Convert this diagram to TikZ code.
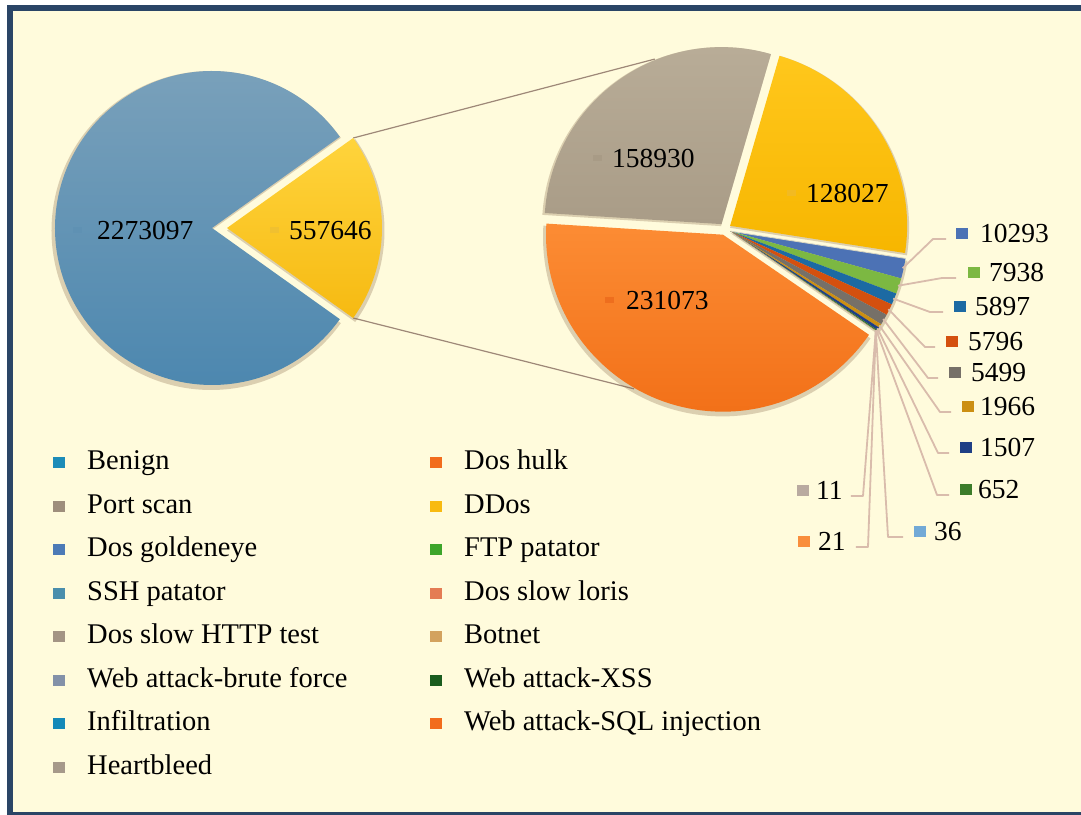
\documentclass[tikz,border=0pt]{standalone}
\usepackage{fontspec}
\setmainfont{Liberation Serif}
\usetikzlibrary{calc}
\definecolor{cream}{HTML}{FFFBDC}
\definecolor{frameblue}{HTML}{2A4566}
\definecolor{shadowc}{HTML}{8A6A4C}
\definecolor{zoomc}{HTML}{9E8878}
\definecolor{leadc}{HTML}{D9BCAC}
% pie colours
\definecolor{bluetop}{HTML}{7CA2BB}
\definecolor{bluebot}{HTML}{4C87AF}
\definecolor{yeltop}{HTML}{FFD43C}
\definecolor{yelbot}{HTML}{F6BA12}
\definecolor{graytop}{HTML}{B9AD98}
\definecolor{graybot}{HTML}{A99C87}
\definecolor{ddtop}{HTML}{FFC71C}
\definecolor{ddbot}{HTML}{F7B600}
\definecolor{hulktop}{HTML}{FC8C34}
\definecolor{hulkbot}{HTML}{F27018}
\definecolor{cgolden}{HTML}{4C72B5}
\definecolor{cftp}{HTML}{7CB842}
\definecolor{cssh}{HTML}{1C6AA3}
\definecolor{cloris}{HTML}{D4500F}
\definecolor{chttp}{HTML}{767068}
\definecolor{cbotnet}{HTML}{CC8F12}
\definecolor{cbrute}{HTML}{1F3F85}
\definecolor{cxss}{HTML}{3C7C2A}
\definecolor{cinfil}{HTML}{72A9D6}
\definecolor{csql}{HTML}{F98E3C}
\definecolor{cheart}{HTML}{B9AAA0}
% legend colours
\definecolor{lbenign}{HTML}{1C8CB8}
\definecolor{lport}{HTML}{9E8E7C}
\definecolor{lgolden}{HTML}{4C7AB6}
\definecolor{lssh}{HTML}{4A8EAC}
\definecolor{lhttp}{HTML}{A39484}
\definecolor{lbrute}{HTML}{8391A8}
\definecolor{linfil}{HTML}{1489B8}
\definecolor{lheart}{HTML}{A6998A}
\definecolor{lhulk}{HTML}{F26C1C}
\definecolor{lddos}{HTML}{F8BA10}
\definecolor{lftp}{HTML}{3DA52A}
\definecolor{lloris}{HTML}{E47C54}
\definecolor{lbotnet}{HTML}{D3A25E}
\definecolor{lxss}{HTML}{1A5C1E}
\definecolor{lsql}{HTML}{F26C1C}
% faint markers inside pies
\definecolor{fblue}{HTML}{5F91B3}
\definecolor{fyel}{HTML}{F0C030}
\definecolor{fgray}{HTML}{A89B86}
\definecolor{fdd}{HTML}{F2BA22}
\definecolor{fhulk}{HTML}{EE6E1E}

\newcommand{\pwedge}[5]{(#1,#2) -- ++(#3:#5) arc[start angle=#3, end angle=#4, radius=#5] -- cycle}
\newcommand{\mk}[2][1.5pt]{\textcolor{#2}{\rule[#1]{12pt}{11pt}}}
\newcommand{\fmk}[1]{\textcolor{#1}{\rule[6pt]{9pt}{6pt}}}

\begin{document}
\begin{tikzpicture}[x=1pt,y=1pt,
  leg/.style={anchor=base west,inner sep=0pt,font=\fontsize{28.5}{34}\selectfont,text=black},
  num/.style={anchor=base west,inner sep=0pt,font=\fontsize{27.5}{32}\selectfont,text=black},
  leader/.style={draw=leadc,line width=1.8pt,line join=round},
  zoomline/.style={draw=zoomc,line width=1.2pt},
  shadowfill/.style={fill=shadowc,opacity=0.3}]

\useasboundingbox (0,0) rectangle (1081,-814);
\clip (0,0) rectangle (1081,-814);
\fill[white] (0,0) rectangle (1081,-814);
\fill[frameblue] (7,-5) rectangle (1100,-830);
\fill[cream] (13,-11) rectangle (1100,-811.5);

% ---------- named centres ----------
\coordinate (LB) at (212,-228);     % left pie, benign
\coordinate (LA) at (227,-228);     % left pie, attacks (exploded)
\coordinate (PS) at (721.5,-224.1); % port scan apex
\coordinate (DD) at (730.1,-225.8); % ddos apex
\coordinate (HK) at (723.0,-234.7); % dos hulk apex
\coordinate (SA) at (730.6,-231.2); % small slices apex

% ---------- zoom lines ----------
\path (LA) ++(35.5:155) coordinate (yt);
\path (LA) ++(-35.5:155) coordinate (yb);
\path (PS) ++(112:178) coordinate (rt);
\path (HK) ++(-120:178) coordinate (rb);
\draw[zoomline] (yt) -- (rt);
\draw[zoomline] (yb) -- (rb);

% ---------- left pie ----------
\fill[shadowfill] \pwedge{211}{-230.5}{35.5}{324.5}{159.5};
\fill[shadowfill] \pwedge{227}{-230.5}{-35.5}{35.5}{157.5};
\shade[top color=bluetop,bottom color=bluebot] \pwedge{212}{-228}{35.5}{324.5}{157};
\shade[top color=yeltop,bottom color=yelbot] \pwedge{227}{-228}{-35.5}{35.5}{155};

% ---------- right pie ----------
\fill[shadowfill] \pwedge{721.0}{-226.1}{73.8}{176.4}{179};
\fill[shadowfill] \pwedge{730.1}{-227.8}{-8.85}{73.8}{179};
\fill[shadowfill] \pwedge{722.5}{-236.9}{176.4}{325.57}{179.5};
\fill[shadowfill] \pwedge{730.6}{-233.2}{-34.43}{-8.85}{179};
\shade[top color=graytop,bottom color=graybot] \pwedge{721.5}{-224.1}{73.8}{176.4}{177};
\shade[top color=ddtop,bottom color=ddbot] \pwedge{730.1}{-225.8}{-8.85}{73.8}{177};
\shade[top color=hulktop,bottom color=hulkbot] \pwedge{723.0}{-234.7}{176.4}{325.57}{177};
\fill[cgolden] \pwedge{730.6}{-231.2}{-15.495}{-8.85}{177};
\fill[cftp]    \pwedge{730.6}{-231.2}{-20.62}{-15.495}{177};
\fill[cssh]    \pwedge{730.6}{-231.2}{-24.427}{-20.62}{177};
\fill[cloris]  \pwedge{730.6}{-231.2}{-28.169}{-24.427}{177};
\fill[chttp]   \pwedge{730.6}{-231.2}{-31.719}{-28.169}{177};
\fill[cbotnet] \pwedge{730.6}{-231.2}{-32.988}{-31.719}{177};
\fill[cbrute]  \pwedge{730.6}{-231.2}{-33.961}{-32.988}{177};
\fill[cxss]    \pwedge{730.6}{-231.2}{-34.382}{-33.961}{177};
\fill[cinfil]  \pwedge{730.6}{-231.2}{-34.405}{-34.382}{177};
\fill[csql]    \pwedge{730.6}{-231.2}{-34.419}{-34.405}{177};
\fill[cheart]  \pwedge{730.6}{-231.2}{-34.43}{-34.419}{177};
\draw[cream!70!gray,line width=0.8pt] (SA) -- ++(-8.85:177);

% ---------- pie value labels ----------
\node[num] (p1) at (73,-239) {\fmk{fblue}\hspace{15pt}2273097};
\node[num] (p2) at (270,-239) {\fmk{fyel}\hspace{10pt}557646};
\node[num] (p3) at (593,-167) {\fmk{fgray}\hspace{10pt}158930};
\node[num] (p4) at (787,-202) {\fmk{fdd}\hspace{10pt}128027};
\node[num] (p5) at (605,-309) {\fmk{fhulk}\hspace{12pt}231073};

% ---------- leader start points ----------
\path (SA) ++(-12.17:176) coordinate (s1);
\path (SA) ++(-18.06:176) coordinate (s2);
\path (SA) ++(-22.52:176) coordinate (s3);
\path (SA) ++(-26.30:176) coordinate (s4);
\path (SA) ++(-29.94:176) coordinate (s5);
\path (SA) ++(-32.35:176) coordinate (s6);
\path (SA) ++(-33.47:176) coordinate (s7);
\path (SA) ++(-34.17:176) coordinate (s8);
\path (SA) ++(-34.39:176) coordinate (s9);
\path (SA) ++(-34.41:176) coordinate (s10);
\path (SA) ++(-34.42:176) coordinate (s11);

% ---------- outside value labels ----------
\node[num] (n1) at (956,-242) {\mk[3.5pt]{cgolden}\hspace{12pt}10293};
\node[num] (n2) at (968,-281) {\mk[3.5pt]{cftp}\hspace{9pt}7938};
\node[num] (n3) at (954,-315) {\mk[3.5pt]{cssh}\hspace{9pt}5897};
\node[num] (n4) at (946,-350) {\mk[3.5pt]{cloris}\hspace{10pt}5796};
\node[num] (n5) at (949,-381) {\mk[3.5pt]{chttp}\hspace{10pt}5499};
\node[num] (n6) at (962,-415) {\mk[3.5pt]{cbotnet}\hspace{6pt}1966};
\node[num] (n7) at (960,-456) {\mk[3.5pt]{cbrute}\hspace{8pt}1507};
\node[num] (n8) at (960,-498) {\mk[3.5pt]{cxss}\hspace{6pt}652};
\node[num] (n9) at (914,-540) {\mk[3.5pt]{cinfil}\hspace{8pt}36};
\node[num] (n10) at (797,-499) {\mk[3.5pt]{cheart}\hspace{7pt}11};
\node[num] (n11) at (798,-550) {\mk[3.5pt]{csql}\hspace{8pt}21};

\draw[leader] (s1) -- (933,-239) -- ([shift={(-10,3)}]n1.base west);
\draw[leader] (s2) -- (942,-278) -- ([shift={(-12,3)}]n2.base west);
\draw[leader] (s3) -- (930,-312) -- ([shift={(-11,3)}]n3.base west);
\draw[leader] (s4) -- (925,-347) -- ([shift={(-11,3)}]n4.base west);
\draw[leader] (s5) -- (928,-378) -- ([shift={(-11,3)}]n5.base west);
\draw[leader] (s6) -- (940,-412) -- ([shift={(-11,3)}]n6.base west);
\draw[leader] (s7) -- (938,-453) -- ([shift={(-11,3)}]n7.base west);
\draw[leader] (s8) -- (937,-495) -- ([shift={(-11,3)}]n8.base west);
\draw[leader] (s9) -- (888,-537) -- ([shift={(-11,3)}]n9.base west);
\draw[leader] (s11) -- (863,-496) -- ([shift={(8,3)}]n10.base east);
\draw[leader] (s10) -- (868,-547) -- ([shift={(10,3)}]n11.base east);

% ---------- legend ----------
\node[leg] (g1) at (53,-469.5) {\mk{lbenign}\hspace{22pt}Benign};
\node[leg] (g2) at (53,-513) {\mk{lport}\hspace{22pt}Port scan};
\node[leg] (g3) at (53,-556.5) {\mk{lgolden}\hspace{22pt}Dos goldeneye};
\node[leg] (g4) at (53,-600) {\mk{lssh}\hspace{22pt}SSH patator};
\node[leg] (g5) at (53,-643.5) {\mk{lhttp}\hspace{22pt}Dos slow HTTP test};
\node[leg] (g6) at (53,-687) {\mk{lbrute}\hspace{22pt}Web attack-brute force};
\node[leg] (g7) at (53,-730.5) {\mk{linfil}\hspace{22pt}Infiltration};
\node[leg] (g8) at (53,-774) {\mk{lheart}\hspace{22pt}Heartbleed};

\node[leg] (h1) at (430,-469.5) {\mk{lhulk}\hspace{22pt}Dos hulk};
\node[leg] (h2) at (430,-513) {\mk{lddos}\hspace{22pt}DDos};
\node[leg] (h3) at (430,-556.5) {\mk{lftp}\hspace{22pt}FTP patator};
\node[leg] (h4) at (430,-600) {\mk{lloris}\hspace{22pt}Dos slow loris};
\node[leg] (h5) at (430,-643.5) {\mk{lbotnet}\hspace{22pt}Botnet};
\node[leg] (h6) at (430,-687) {\mk{lxss}\hspace{22pt}Web attack-XSS};
\node[leg] (h7) at (430,-730.5) {\mk{lsql}\hspace{22pt}Web attack-SQL injection};
\end{tikzpicture}
\end{document}
